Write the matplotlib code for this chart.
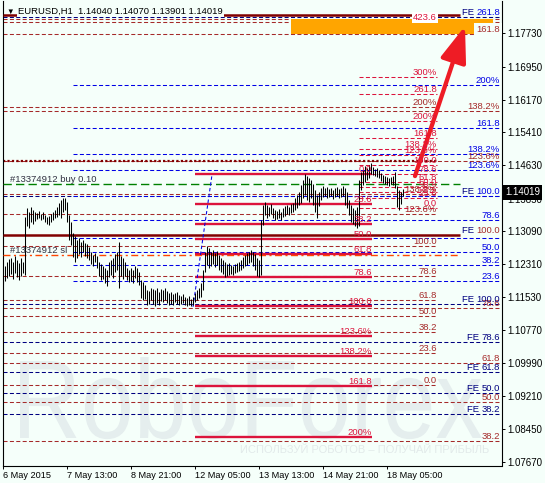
import matplotlib
matplotlib.use("Agg")
import matplotlib.pyplot as plt
from matplotlib.transforms import offset_copy, Affine2D
from matplotlib.patches import Rectangle, PathPatch
from matplotlib.textpath import TextPath
from matplotlib.font_manager import FontProperties

plt.rcParams['lines.scale_dashes'] = False
plt.rcParams['font.family'] = ['Liberation Sans', 'DejaVu Sans']

# ---------------- data ----------------
bar_high = [1.1218, 1.1227, 1.1236, 1.1243, 1.1246, 1.1236, 1.1250, 1.1241, 1.1234, 1.1246,
            1.1236, 1.1342, 1.1363, 1.1354, 1.1365, 1.1358, 1.1354, 1.1351, 1.1356, 1.1349,
            1.1354, 1.1347, 1.1342, 1.1344, 1.1349, 1.1354, 1.1358, 1.1365, 1.1375, 1.1382,
            1.1386, 1.1386, 1.1377, 1.1347, 1.1330, 1.1304, 1.1297, 1.1288, 1.1293, 1.1283,
            1.1288, 1.1281, 1.1279, 1.1272, 1.1260, 1.1253, 1.1257, 1.1250, 1.1236, 1.1232,
            1.1227, 1.1222, 1.1218, 1.1236, 1.1241, 1.1246, 1.1255, 1.1260, 1.1283, 1.1250,
            1.1246, 1.1236, 1.1222, 1.1218, 1.1222, 1.1218, 1.1227, 1.1222, 1.1213, 1.1194,
            1.1190, 1.1183, 1.1171, 1.1168, 1.1176, 1.1173, 1.1171, 1.1176, 1.1166, 1.1173,
            1.1171, 1.1176, 1.1168, 1.1164, 1.1166, 1.1161, 1.1164, 1.1166, 1.1159, 1.1156,
            1.1161, 1.1154, 1.1152, 1.1156, 1.1149, 1.1154, 1.1164, 1.1171, 1.1176, 1.1187,
            1.1218, 1.1260, 1.1274, 1.1269, 1.1260, 1.1264, 1.1257, 1.1262, 1.1253, 1.1246,
            1.1241, 1.1236, 1.1232, 1.1234, 1.1229, 1.1227, 1.1232, 1.1234, 1.1236, 1.1241,
            1.1248, 1.1253, 1.1257, 1.1260, 1.1264, 1.1260, 1.1255, 1.1246, 1.1241, 1.1335,
            1.1370, 1.1377, 1.1370, 1.1365, 1.1372, 1.1363, 1.1358, 1.1356, 1.1361, 1.1354,
            1.1363, 1.1368, 1.1370, 1.1365, 1.1372, 1.1375, 1.1386, 1.1394, 1.1401, 1.1417,
            1.1429, 1.1443, 1.1438, 1.1433, 1.1429, 1.1419, 1.1405, 1.1394, 1.1401, 1.1410,
            1.1415, 1.1410, 1.1412, 1.1408, 1.1410, 1.1405, 1.1410, 1.1412, 1.1408, 1.1410,
            1.1415, 1.1410, 1.1401, 1.1382, 1.1370, 1.1363, 1.1358, 1.1365, 1.1429, 1.1448,
            1.1452, 1.1462, 1.1457, 1.1464, 1.1469, 1.1459, 1.1455, 1.1457, 1.1452, 1.1445,
            1.1441, 1.1438, 1.1436, 1.1433, 1.1436, 1.1438, 1.1448, 1.1415, 1.1405, 1.1401,
            1.14070]
bar_low = [1.1185, 1.1192, 1.1199, 1.1204, 1.1208, 1.1197, 1.1211, 1.1201, 1.1194, 1.1204,
           1.1211, 1.1206, 1.1321, 1.1316, 1.1330, 1.1325, 1.1333, 1.1337, 1.1340, 1.1335,
           1.1337, 1.1330, 1.1325, 1.1323, 1.1330, 1.1335, 1.1340, 1.1342, 1.1347, 1.1340,
           1.1354, 1.1358, 1.1330, 1.1288, 1.1276, 1.1248, 1.1236, 1.1246, 1.1255, 1.1248,
           1.1260, 1.1250, 1.1246, 1.1241, 1.1232, 1.1227, 1.1236, 1.1222, 1.1204, 1.1194,
           1.1197, 1.1187, 1.1180, 1.1201, 1.1206, 1.1199, 1.1213, 1.1218, 1.1176, 1.1204,
           1.1197, 1.1204, 1.1194, 1.1190, 1.1192, 1.1187, 1.1199, 1.1190, 1.1183, 1.1152,
           1.1147, 1.1149, 1.1135, 1.1138, 1.1147, 1.1138, 1.1133, 1.1140, 1.1135, 1.1145,
           1.1142, 1.1147, 1.1140, 1.1135, 1.1138, 1.1135, 1.1142, 1.1138, 1.1135, 1.1138,
           1.1140, 1.1135, 1.1133, 1.1135, 1.1133, 1.1135, 1.1142, 1.1147, 1.1152, 1.1154,
           1.1171, 1.1213, 1.1229, 1.1222, 1.1227, 1.1232, 1.1225, 1.1229, 1.1218, 1.1213,
           1.1208, 1.1201, 1.1204, 1.1206, 1.1208, 1.1206, 1.1211, 1.1213, 1.1215, 1.1218,
           1.1222, 1.1227, 1.1229, 1.1234, 1.1236, 1.1227, 1.1218, 1.1204, 1.1201, 1.1206,
           1.1323, 1.1347, 1.1340, 1.1344, 1.1349, 1.1340, 1.1335, 1.1337, 1.1340, 1.1335,
           1.1342, 1.1344, 1.1349, 1.1347, 1.1351, 1.1354, 1.1358, 1.1363, 1.1370, 1.1375,
           1.1386, 1.1394, 1.1382, 1.1377, 1.1386, 1.1370, 1.1354, 1.1340, 1.1368, 1.1382,
           1.1389, 1.1391, 1.1386, 1.1389, 1.1391, 1.1384, 1.1389, 1.1391, 1.1386, 1.1389,
           1.1391, 1.1370, 1.1363, 1.1347, 1.1330, 1.1326, 1.1321, 1.1316, 1.1321, 1.1405,
           1.1417, 1.1424, 1.1429, 1.1433, 1.1443, 1.1441, 1.1438, 1.1436, 1.1433, 1.1426,
           1.1422, 1.1419, 1.1417, 1.1415, 1.1419, 1.1417, 1.1410, 1.1365, 1.1358, 1.1372,
           1.13901]
last_ohlc = [1.14040, 1.14070, 1.13901, 1.14019]

time_tick_bars = [0, 32, 64, 96, 128, 160, 192]
time_tick_labels = ["6 May 2015", "7 May 13:00", "8 May 21:00", "12 May 05:00",
                    "13 May 13:00", "14 May 21:00", "18 May 05:00"]
price_ticks = [1.17730, 1.16950, 1.16170, 1.15410, 1.14630, 1.13850, 1.13090,
               1.12310, 1.11530, 1.10770, 1.09990, 1.09210, 1.08450, 1.07670]

# red solid Fibonacci grid
red_solid_levels = [1.1442, 1.1372, 1.1325, 1.1290, 1.1254, 1.1202, 1.1134,
                    1.1063, 1.1016, 1.0945, 1.0826]
red_solid_labels = ["0.0", "23.6", "38.2", "50.0", "61.8", "78.6", "100.0",
                    "123.6%", "138.2%", "161.8", "200%"]
# red dashed Fibonacci grid
red_dash_levels = [1.1800, 1.1670, 1.1631, 1.1567, 1.1527, 1.1502, 1.1487, 1.1464,
                   1.1443, 1.1425, 1.1413, 1.1401, 1.1386, 1.1363]
red_dash_labels = ["423.6", "300%", "261.8", "200%", "161.8", "138.2%", "123.6%", "100.0",
                   "78.6", "61.8", "50.0", "38.2", "23.6", "0.0"]
# brown grid (left part)
brown_left_levels = [1.1599, 1.1397, 1.1349, 1.1274, 1.1203, 1.1147, 1.1110,
                     1.1072, 1.1023, 1.0948]
brown_left_labels = ["200%", "138.2%", "123.6%", "100.0", "78.6", "61.8", "50.0",
                     "38.2", "23.6", "0.0"]
brown_dotted_level = 1.1473
# brown grid (full width, labels at the right)
brown_right_levels = [1.1771, 1.1591, 1.1473, 1.1128, 1.0999, 1.0908, 1.0816]
brown_right_labels = ["161.8", "138.2%", "123.6%", "78.6", "61.8", "50.0", "38.2"]
# blue expansion grid
blue_levels = [1.1652, 1.1551, 1.1490, 1.1452, 1.1392, 1.1335, 1.1293, 1.1260, 1.1229, 1.1192]
blue_labels = ["200%", "161.8", "138.2%", "123.6%", "", "78.6", "", "50.0", "38.2", "23.6"]
# FE labels (navy "FE" + value)
fe_label_levels = [1.1811, 1.1392, 1.1300, 1.1138, 1.1048, 1.0977, 1.0928, 1.0879]
fe_label_values = ["261.8", "100.0", "100.0", "100.0", "78.6", "61.8", "50.0", "38.2"]
fe_line_levels = [1.1811, 1.1392, 1.1138, 1.1048, 1.0977, 1.0928, 1.0879]

maroon_levels = [1.1815, 1.1300]
extra_brown_levels = [1.1807, 1.1800]
buy_price = 1.1419
sl_price = 1.1252
target_zone = [1.1772, 1.1807]
trend_x = [95, 104.5]
trend_y = [1.1131, 1.1441]
arrow_tail = (206, 1.1438)
arrow_head = (231, 1.1790)

# ---------------- style ----------------
BG = '#F5FFFA'
CRIMSON = '#DC143C'
BROWN = '#A52A2A'
MAROON = '#800000'
BLUE = '#0000E6'
NAVY = '#000080'
FS = 6.8
DASH = (0, (2.9, 1.7))

W, H = 545, 483
AXW, AXH = 499, 464.7
fig = plt.figure(figsize=(W / 100, H / 100), dpi=100)
fig.patch.set_facecolor(BG)
ax = fig.add_axes([2.5 / W, 1 - 465.7 / H, AXW / W, AXH / H])
ax.set_facecolor(BG)

ppx = 0.0002347
ax.set_xlim(-0.25, 249.25)
ax.set_ylim(1.18512 - ppx * 465.7, 1.18512 - ppx * 1)
X0, X1 = -0.25, 249.25

# watermark (stretched text outline)
wm_path = TextPath((0, 0), "RoboForex", size=100, prop=FontProperties(family='Liberation Sans'))
ext = wm_path.get_extents()
sx = 462.0 / ext.width
sy = 81.0 / ext.y1
wm_tr = (Affine2D().translate(-ext.x0, 0).scale(sx / AXW, sy / AXH)
         .translate(17.5 / AXW, (465.7 - 438) / AXH) + ax.transAxes)
ax.add_patch(PathPatch(wm_path, transform=wm_tr, facecolor='#E5EEEE', edgecolor='none',
                       zorder=0.5))
ax.text(237 / AXW, (465.7 - 450) / AXH, "ИСПОЛЬЗУЙ РОБОТОВ – ПОЛУЧАЙ ПРИБЫЛЬ",
        transform=ax.transAxes, fontsize=8, color='#E2EAEA', va='center', ha='left',
        zorder=0.5)


def hl(y, x0, x1, color, lw=0.75, ls=DASH, z=2):
    ax.plot([x0, x1], [y, y], color=color, lw=lw, ls=ls, zorder=z,
            solid_capstyle='butt', dash_capstyle='butt')


lab_tr = offset_copy(ax.transData, fig=fig, x=0, y=2, units='dots')


def lab(x, y, s, color, ha='right', bbox=None):
    return ax.text(x, y, s, transform=lab_tr, fontsize=FS, color=color, ha=ha,
                   va='baseline', zorder=7, bbox=bbox)


# lines
for y in extra_brown_levels:
    hl(y, X0, X1, BROWN)
for y in brown_right_levels:
    hl(y, X0, X1, BROWN)
for y in brown_left_levels:
    hl(y, X0, 217, BROWN)
hl(brown_dotted_level, X0, 217, MAROON, lw=1.6, ls=(0, (1.6, 1.6)))
for y in fe_line_levels:
    hl(y, X0, X1, NAVY)
for y in blue_levels:
    hl(y, 35, X1, BLUE)
for y in red_dash_levels:
    hl(y, 178, 217, CRIMSON)
for y in red_solid_levels:
    hl(y, 96, 184.5, CRIMSON, lw=1.7, ls='-', z=3)
for y in maroon_levels:
    hl(y, X0, 228.5, MAROON, lw=1.8, ls='-', z=3)
hl(buy_price, X0, 228.5, '#008000', lw=1.0, ls=(0, (6, 3)), z=3)
hl(sl_price, X0, 228.5, '#FF4500', lw=1.0, ls=(0, (5, 2.5, 1.5, 2.5)), z=3)
ax.plot(trend_x, trend_y, color=BLUE, lw=0.75, ls=(0, (2.5, 1.7)), zorder=3)

# target zone
ax.add_patch(Rectangle((144, target_zone[0]), 245 - 144, target_zone[1] - target_zone[0],
                       facecolor='#FFA500', edgecolor='none', zorder=4))

# price bars
xs = list(range(len(bar_high)))
ax.vlines(xs, bar_low, bar_high, color='black', lw=0.75, zorder=5)

# arrow
ax.annotate('', xy=arrow_head, xytext=arrow_tail,
            arrowprops=dict(arrowstyle='-|>,head_length=2.2,head_width=0.8',
                            mutation_scale=10, lw=3.1, color='#EE1C25',
                            shrinkA=0, shrinkB=0), zorder=6)

# labels
for y, s in zip(red_solid_levels, red_solid_labels):
    lab(184.5, y, s, CRIMSON)
for y, s in zip(red_dash_levels, red_dash_labels):
    bb = dict(facecolor='white', edgecolor='none', pad=0.8) if s == "423.6" else None
    lab(217, y, s, CRIMSON, bbox=bb)
for y, s in zip(brown_left_levels, brown_left_labels):
    lab(217, y, s, BROWN)
for y, s in zip(blue_levels, blue_labels):
    if s:
        lab(248.5, y, s, BLUE)
for y, s in zip(brown_right_levels, brown_right_labels):
    bb = dict(facecolor=BG, edgecolor='none', pad=1.5) if s == "161.8" else None
    lab(248.5, y, s, BROWN, bbox=bb)
fe_value_colors = [BLUE, BLUE, BROWN] + [NAVY] * (len(fe_label_levels) - 3)
for y, s, c in zip(fe_label_levels, fe_label_values, fe_value_colors):
    t = lab(248.5, y, s, c)
    ax.annotate("FE ", xy=(0, 0), xycoords=t, ha='right', va='bottom',
                fontsize=FS, color=NAVY, zorder=7)
lab(3.5, buy_price, "#13374912 buy 0.10", '#303040', ha='left')
lab(3.5, sl_price, "#13374912 sl", '#303040', ha='left')

# axes
ax.spines['top'].set_visible(False)
for side in ['left', 'bottom', 'right']:
    ax.spines[side].set_linewidth(0.8)
    ax.spines[side].set_color('black')
ax.yaxis.tick_right()
ax.set_yticks(price_ticks)
ax.set_yticklabels([f"{p:.5f}" for p in price_ticks])
ax.set_xticks(time_tick_bars)
ax.set_xticklabels(time_tick_labels)
for t in ax.get_xticklabels():
    t.set_ha('left')
ax.tick_params(axis='y', direction='out', length=2.5, width=0.7, labelsize=7, pad=2)
ax.tick_params(axis='x', direction='out', length=2.5, width=0.7, labelsize=6.6, pad=1.5)

# title
fig.text(6 / W, 1 - 13.5 / H, "▼", fontsize=5.5, color='black', va='baseline', ha='left')
fig.text(18 / W, 1 - 14 / H,
         "EURUSD,H1  " + " ".join(f"{v:.5f}" for v in last_ohlc),
         fontsize=6.8, color='black', va='baseline', ha='left',
         bbox=dict(facecolor=BG, edgecolor='none', pad=0.6))

# current price tag
fig.text(505 / W, 1 - 195.3 / H, f"{last_ohlc[3]:.5f}", fontsize=7, color='white',
         va='baseline', ha='left',
         bbox=dict(boxstyle='square,pad=0.25', facecolor='black', edgecolor='none'))

fig.savefig("out.png", dpi=100, facecolor=BG)
